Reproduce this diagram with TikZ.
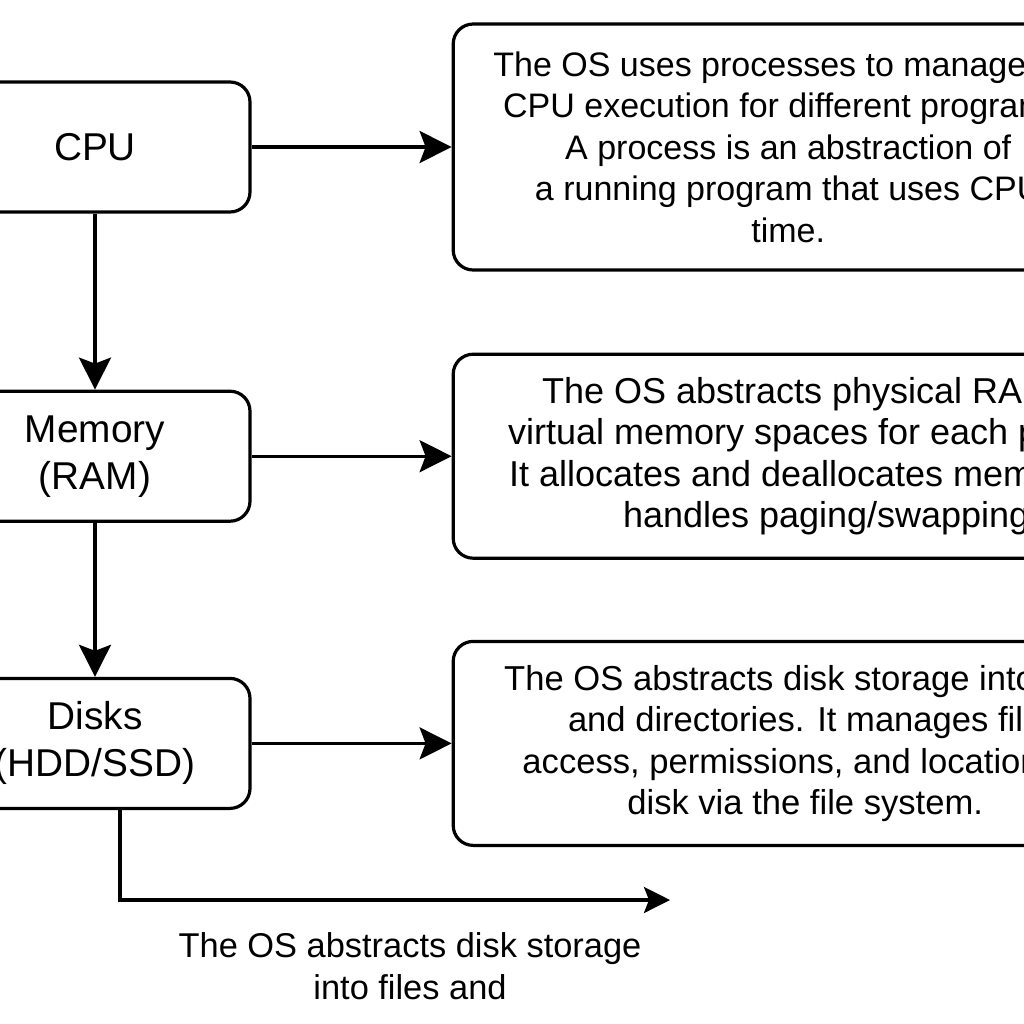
\documentclass[tikz,border=0pt]{standalone}
\usepackage{fontspec}
\setmainfont{Liberation Sans}
\usetikzlibrary{arrows.meta, positioning}

\begin{document}
\begin{tikzpicture}[
  x=0.5pt, y=-0.5pt,
  node distance=88pt and 100pt,
  unit/.style={rectangle, rounded corners=10pt, draw, line width=1.6pt,
               minimum width=155pt, minimum height=65pt, align=center,
               font=\fontsize{19.4}{23.5}\selectfont},
  note/.style={rectangle, rounded corners=10pt, draw, line width=1.6pt,
               minimum height=102pt, align=center,
               font=\fontsize{17}{20.75}\selectfont},
  plain/.style={align=center, font=\fontsize{17.2}{21}\selectfont},
  arr/.style={-{Stealth[length=16pt, width=16pt, inset=3pt]}, line width=1.6pt},
  arrsmall/.style={-{Stealth[length=13pt, width=13pt, inset=2.5pt]}, line width=1.6pt}
]
  \useasboundingbox (0,0) rectangle (1024,1024);
  \clip (0,0) rectangle (1024,1024);

  \node[unit] (cpu) at (95,147) {CPU};
  \node[unit, below=of cpu] (mem) {Memory\\(RAM)};
  \node[unit, below=77pt of mem] (disk) {Disks\\(HDD/SSD)};

  \node[note, minimum width=335pt, minimum height=123pt, right=of cpu] (cpunote)
    {The OS uses processes to manage the\\CPU execution for different programs.\\A process is an abstraction of\\a running program that uses CPU\\time.};
  \node[note, minimum width=378pt, right=of mem,
        font=\fontsize{18}{20.75}\selectfont] (memnote)
    {The OS abstracts physical RAM into\\virtual memory spaces for each process.\\It allocates and deallocates memory and\\handles paging/swapping.};
  \node[note, minimum width=352pt, right=of disk,
        font=\fontsize{17.3}{20.75}\selectfont] (disknote)
    {The OS abstracts disk storage into files\\and directories. It manages file\\access, permissions, and location on\\disk via the file system.};

  \coordinate (fsend) at (670,900);
  \node[plain] (fsnote) at (410,966) {The OS abstracts disk storage\\into files and};

  \draw[arr] (cpu) -- (mem);
  \draw[arr] (mem) -- (disk);
  \draw[arr] (cpu) -- (cpunote);
  \draw[arr] (mem) -- (memnote);
  \draw[arr] (disk) -- (disknote);
  \draw[arrsmall] ([xshift=12.5pt]disk.south) |- (fsend);
\end{tikzpicture}
\end{document}
